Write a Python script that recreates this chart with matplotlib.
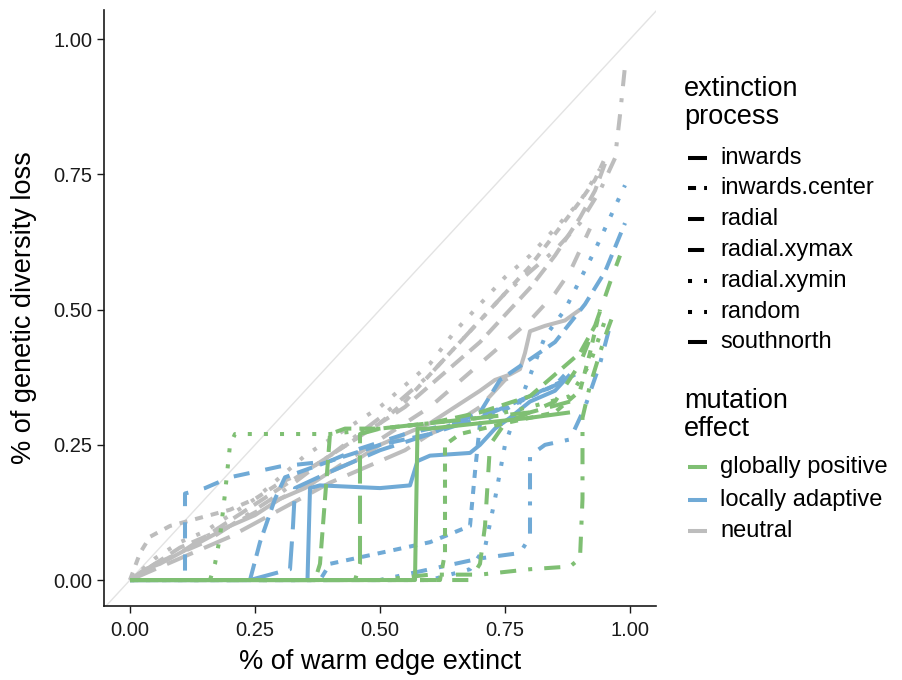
import matplotlib

matplotlib.use("Agg")

import matplotlib.pyplot as plt
from matplotlib.lines import Line2D

plt.rcParams["font.family"] = ["Liberation Sans", "DejaVu Sans"]

# extinction processes and their ggplot-like linetypes
processes = ["inwards", "inwards.center", "radial", "radial.xymax",
             "radial.xymin", "random", "southnorth"]
effects = ["globally positive", "locally adaptive", "neutral"]

# (x, y) per effect and process
green = {
    "inwards": ([0, 0.57, 0.575, 0.6, 0.7, 0.8, 0.88],
                [0, 0.0, 0.28, 0.28, 0.29, 0.3, 0.31]),
    "inwards.center": ([0, 0.62, 0.63, 0.63, 0.66, 0.75, 0.85, 0.9, 0.92, 0.94],
                       [0, 0.0, 0.05, 0.25, 0.27, 0.29, 0.31, 0.35, 0.42, 0.5]),
    "radial": ([0, 0.37, 0.38, 0.4, 0.43, 0.5, 0.6, 0.7, 0.8, 0.85, 0.9, 0.93],
               [0, 0.0, 0.03, 0.27, 0.28, 0.28, 0.29, 0.31, 0.34, 0.38, 0.42, 0.47]),
    "radial.xymax": ([0, 0.68, 0.7, 0.71, 0.72, 0.75, 0.85, 0.9, 0.93, 0.96, 0.98],
                     [0, 0.0, 0.03, 0.1, 0.25, 0.29, 0.33, 0.4, 0.47, 0.55, 0.6]),
    "radial.xymin": ([0, 0.16, 0.17, 0.18, 0.19, 0.2, 0.21, 0.3, 0.4, 0.5, 0.6,
                      0.7, 0.8, 0.88, 0.92, 0.95],
                     [0, 0.0, 0.03, 0.08, 0.16, 0.25, 0.27, 0.27, 0.27, 0.28,
                      0.29, 0.3, 0.32, 0.34, 0.4, 0.48]),
    "random": ([0, 0.5, 0.6, 0.7, 0.8, 0.88, 0.9, 0.905, 0.905, 0.92, 0.95, 0.97],
               [0, 0.0, 0.01, 0.01, 0.02, 0.025, 0.04, 0.15, 0.3, 0.36, 0.45, 0.5]),
    "southnorth": ([0, 0.45, 0.46, 0.46, 0.5, 0.6, 0.7, 0.8, 0.88],
                   [0, 0.0, 0.03, 0.27, 0.28, 0.29, 0.3, 0.31, 0.33]),
}

blue = {
    "inwards": ([0, 0.355, 0.36, 0.38, 0.5, 0.56, 0.575, 0.6, 0.68, 0.7, 0.73,
                 0.76, 0.8, 0.85, 0.88],
                [0, 0.0, 0.17, 0.175, 0.17, 0.175, 0.22, 0.23, 0.235, 0.25,
                 0.28, 0.3, 0.33, 0.35, 0.38]),
    "inwards.center": ([0, 0.38, 0.4, 0.5, 0.6, 0.68, 0.69, 0.7, 0.78, 0.85, 0.88],
                       [0, 0.0, 0.03, 0.05, 0.07, 0.1, 0.2, 0.29, 0.33, 0.36, 0.39]),
    "radial": ([0, 0.24, 0.26, 0.29, 0.31, 0.4, 0.5, 0.6, 0.7, 0.74, 0.85,
                0.91, 0.95, 0.99],
               [0, 0.0, 0.07, 0.15, 0.19, 0.22, 0.25, 0.27, 0.31, 0.37, 0.44,
                0.51, 0.57, 0.66]),
    "radial.xymax": ([0, 0.11, 0.11, 0.15, 0.2, 0.3, 0.4, 0.45, 0.55, 0.65,
                      0.75, 0.85, 0.89],
                     [0, 0.0, 0.16, 0.17, 0.19, 0.21, 0.22, 0.24, 0.27, 0.29,
                      0.32, 0.36, 0.38]),
    "radial.xymin": ([0, 0.6, 0.68, 0.71, 0.73, 0.75, 0.78, 0.83, 0.87, 0.9,
                      0.93, 0.96, 0.99],
                     [0, 0.0, 0.02, 0.06, 0.15, 0.25, 0.33, 0.45, 0.5, 0.555,
                      0.61, 0.67, 0.73]),
    "random": ([0, 0.5, 0.6, 0.7, 0.78, 0.8, 0.8, 0.83, 0.88, 0.91, 0.94, 0.96],
               [0, 0.0, 0.02, 0.04, 0.05, 0.08, 0.23, 0.25, 0.26, 0.32, 0.4, 0.47]),
    "southnorth": ([0, 0.24, 0.32, 0.326, 0.33, 0.4, 0.5, 0.6, 0.7, 0.8, 0.87],
                   [0, 0.0, 0.02, 0.1, 0.17, 0.2, 0.24, 0.27, 0.3, 0.34, 0.37]),
}

gray = {
    "inwards": ([0, 0.03, 0.06, 0.1, 0.14, 0.2, 0.25, 0.3, 0.35, 0.4, 0.45, 0.5,
                 0.55, 0.6, 0.65, 0.7, 0.73, 0.76, 0.78, 0.79, 0.8, 0.83, 0.87, 0.9],
                [0, 0.02, 0.03, 0.05, 0.07, 0.1, 0.12, 0.15, 0.17, 0.2, 0.22, 0.25,
                 0.27, 0.29, 0.32, 0.35, 0.37, 0.38, 0.39, 0.42, 0.46, 0.47, 0.48, 0.5]),
    "inwards.center": ([0, 0.02, 0.04, 0.08, 0.12, 0.2, 0.25, 0.3, 0.35, 0.4, 0.45,
                        0.5, 0.55, 0.6, 0.65, 0.7, 0.75, 0.8, 0.85, 0.9, 0.93, 0.95],
                       [0, 0.05, 0.08, 0.1, 0.11, 0.13, 0.15, 0.18, 0.2, 0.23, 0.26,
                        0.29, 0.33, 0.38, 0.43, 0.48, 0.53, 0.58, 0.64, 0.7, 0.74, 0.78]),
    "radial": ([0, 0.05, 0.1, 0.15, 0.2, 0.25, 0.3, 0.35, 0.4, 0.45, 0.5, 0.55,
                0.6, 0.65, 0.7, 0.75, 0.8, 0.85, 0.9, 0.93, 0.95],
               [0, 0.03, 0.06, 0.08, 0.11, 0.14, 0.17, 0.2, 0.23, 0.26, 0.29, 0.32,
                0.36, 0.4, 0.44, 0.49, 0.54, 0.6, 0.67, 0.72, 0.77]),
    "radial.xymax": ([0, 0.05, 0.1, 0.15, 0.2, 0.3, 0.4, 0.5, 0.55, 0.6, 0.65,
                      0.7, 0.75, 0.8, 0.85, 0.88, 0.9, 0.92],
                     [0, 0.03, 0.05, 0.07, 0.1, 0.15, 0.2, 0.26, 0.29, 0.32, 0.36,
                      0.4, 0.44, 0.48, 0.53, 0.57, 0.61, 0.65]),
    "radial.xymin": ([0, 0.05, 0.1, 0.15, 0.2, 0.25, 0.3, 0.35, 0.4, 0.45, 0.5,
                      0.55, 0.6, 0.65, 0.7, 0.75, 0.8, 0.85, 0.9, 0.94],
                     [0, 0.04, 0.07, 0.09, 0.12, 0.15, 0.19, 0.23, 0.26, 0.29, 0.32,
                      0.36, 0.4, 0.46, 0.51, 0.56, 0.6, 0.65, 0.7, 0.76]),
    "random": ([0, 0.05, 0.1, 0.15, 0.2, 0.3, 0.4, 0.5, 0.55, 0.6, 0.65, 0.7,
                0.75, 0.8, 0.85, 0.9, 0.94, 0.97, 0.98, 0.99],
               [0, 0.03, 0.05, 0.08, 0.1, 0.16, 0.23, 0.3, 0.34, 0.38, 0.43, 0.48,
                0.53, 0.57, 0.61, 0.66, 0.72, 0.78, 0.86, 0.95]),
    "southnorth": ([0, 0.05, 0.1, 0.2, 0.3, 0.4, 0.5, 0.55, 0.6, 0.65, 0.7, 0.73,
                    0.75, 0.77],
                   [0, 0.02, 0.04, 0.08, 0.13, 0.18, 0.22, 0.24, 0.27, 0.29, 0.32,
                    0.35, 0.37, 0.38]),
}

ticks = [0.0, 0.25, 0.5, 0.75, 1.0]
tick_labels = ["0.00", "0.25", "0.50", "0.75", "1.00"]

linetypes = {
    "inwards": "-",
    "inwards.center": (0, (2, 2)),
    "radial": (0, (4, 2)),
    "radial.xymax": (0, (4, 4)),
    "radial.xymin": (0, (1, 3)),
    "random": (0, (1, 3, 4, 3)),
    "southnorth": (0, (7, 3)),
}
colors = {"globally positive": "#7fbf73",
          "locally adaptive": "#70aad6",
          "neutral": "#bdbdbd"}
lw = 2.9

fig = plt.figure(figsize=(9.03, 6.8), dpi=100)
ax = fig.add_axes([104 / 903, 1 - 606 / 680, 552 / 903, 596 / 680])

ax.axline((0, 0), (1, 1), color="#e3e3e3", lw=1.0, zorder=1)

for eff, data in [("neutral", gray), ("locally adaptive", blue),
                  ("globally positive", green)]:
    for proc in processes:
        xs, ys = data[proc]
        ax.plot(xs, ys, color=colors[eff], lw=lw, linestyle=linetypes[proc],
                dash_capstyle="butt", solid_capstyle="butt", zorder=2)

ax.set_xlim(-0.052, 1.052)
ax.set_ylim(-0.048, 1.054)
ax.set_xticks(ticks)
ax.set_xticklabels(tick_labels)
ax.set_yticks(ticks)
ax.set_yticklabels(tick_labels)
ax.tick_params(labelsize=14.5, colors="#1a1a1a", length=5, width=1.0)
ax.tick_params(axis="x", pad=6)
for s in ["top", "right"]:
    ax.spines[s].set_visible(False)
for s in ["left", "bottom"]:
    ax.spines[s].set_linewidth(1.2)
    ax.spines[s].set_color("#1a1a1a")
ax.set_xlabel("% of warm edge extinct", fontsize=19.5, labelpad=6)
ax.set_ylabel("% of genetic diversity loss", fontsize=19.5, labelpad=12)


def fx(px):
    return px / 903


def fy(py):
    return 1 - py / 680


# legend: extinction process
fig.text(fx(684), fy(103), "extinction\nprocess", fontsize=19.5,
         va="center", ha="left", linespacing=1.12)
row_y = [158, 188, 219, 250, 281, 312, 342]
for proc, py in zip(processes, row_y):
    fig.add_artist(Line2D([fx(688), fx(707)], [fy(py), fy(py)], color="black",
                          lw=lw, linestyle=linetypes[proc],
                          dash_capstyle="butt", solid_capstyle="butt"))
    fig.text(fx(720), fy(py), proc, fontsize=17, va="center", ha="left")

# legend: mutation effect
fig.text(fx(684), fy(415), "mutation\neffect", fontsize=19.5,
         va="center", ha="left", linespacing=1.12)
row_y2 = [467, 500, 531]
for eff, py in zip(effects, row_y2):
    fig.add_artist(Line2D([fx(688), fx(707)], [fy(py), fy(py)],
                          color=colors[eff], lw=lw, solid_capstyle="butt"))
    fig.text(fx(720), fy(py), eff, fontsize=17, va="center", ha="left")

fig.savefig("out.png", dpi=100)
plt.close(fig)
